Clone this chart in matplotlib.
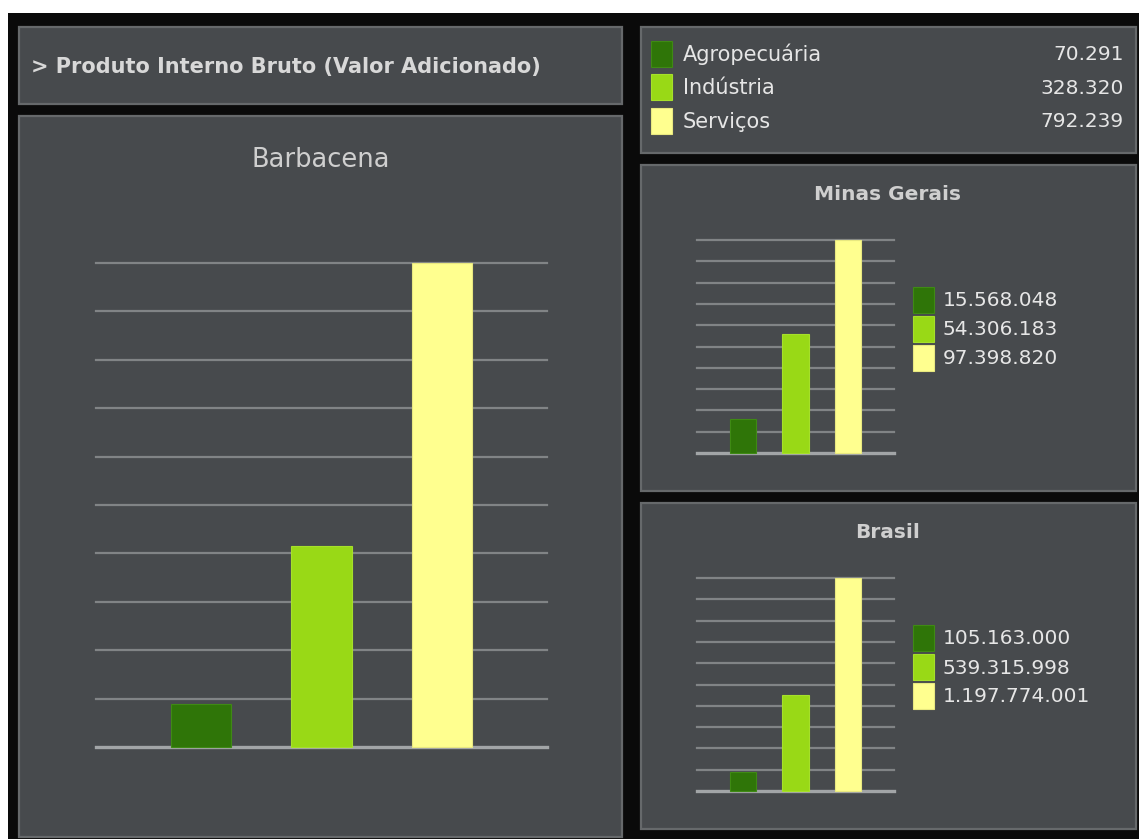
import matplotlib
matplotlib.use("Agg")
import matplotlib.pyplot as plt
from matplotlib import font_manager
from matplotlib.patches import Rectangle

# sectors and value added (R$ mil)
sectors = ["Agropecuária", "Indústria", "Serviços"]
barbacena = [70291, 328320, 792239]
minas_gerais = [15568048, 54306183, 97398820]
brasil = [105163000, 539315998, 1197774001]

title = "> Produto Interno Bruto (Valor Adicionado)"
colors = ["#2f7508", "#99d916", "#ffff8f"]
edges = ["#3f8a14", "#a6e02a", "#e8e880"]

W, H = 1139, 839
PANEL = "#474a4d"
BORDER = "#66696b"
TEXT = "#e6e6e6"
GRID = "#818486"
BASE = "#a2a5a7"

installed = {f.name for f in font_manager.fontManager.ttflist}
narrow = "Liberation Sans Narrow" if "Liberation Sans Narrow" in installed else "DejaVu Sans"
plt.rcParams["font.family"] = "DejaVu Sans"


def fmt(v):
    return f"{v:,}".replace(",", ".")


def px_axes(fig, x0, y0, x1, y1, **kw):
    return fig.add_axes([x0 / W, 1 - y1 / H, (x1 - x0) / W, (y1 - y0) / H], **kw)


def panel(bg, x0, y0, x1, y1):
    bg.add_patch(Rectangle((x0, y0), x1 - x0, y1 - y0, facecolor=PANEL,
                           edgecolor=BORDER, linewidth=1.6))


def bar_chart(fig, values, x0, y0, x1, y1):
    ax = px_axes(fig, x0, y0, x1, y1)
    ax.set_facecolor("none")
    top = max(values)
    for i in range(1, 11):
        ax.axhline(top * i / 10, color=GRID, linewidth=1.6, zorder=1, clip_on=False)
    ax.axhline(0, color=BASE, linewidth=2.4, zorder=1, clip_on=False)
    ax.bar(range(len(values)), values, width=0.5, color=colors,
           edgecolor=edges, linewidth=0.8, zorder=2, clip_on=False)
    ax.set_xlim(-0.87, 2.87)
    ax.set_ylim(0, top)
    ax.axis("off")
    return ax


def side_legend(bg, values, x, y):
    for i, v in enumerate(values):
        yc = y + i * 29
        bg.add_patch(Rectangle((x, yc - 13), 21, 26, facecolor=colors[i],
                               edgecolor=edges[i], linewidth=0.8))
        bg.text(x + 30, yc + 1, fmt(v), color=TEXT, fontsize=14.5,
                family=narrow, va="center", ha="left")


fig = plt.figure(figsize=(W / 100, H / 100), dpi=100)
fig.patch.set_facecolor("white")

bg = fig.add_axes([0, 0, 1, 1])
bg.set_xlim(0, W)
bg.set_ylim(H, 0)
bg.axis("off")
bg.add_patch(Rectangle((8, 13), W - 8, H - 13, facecolor="#0a0a0a", edgecolor="none"))

# left column
panel(bg, 19, 27, 622, 104)
bg.text(31, 67, title, color="#d8d8d8", fontsize=15, fontweight="bold",
        family=narrow, va="center", ha="left")
panel(bg, 19, 116, 622, 837)
bg.text(321, 160, "Barbacena", color="#cfcfcf", fontsize=18.5,
        family=narrow, va="center", ha="center")
bar_chart(fig, barbacena, 96, 263, 547, 747)

# legend with Barbacena values
panel(bg, 641, 27, 1136, 153)
for i, (name, v) in enumerate(zip(sectors, barbacena)):
    yc = 53.5 + i * 33.5
    bg.add_patch(Rectangle((651, yc - 13), 21, 26, facecolor=colors[i],
                           edgecolor=edges[i], linewidth=0.8))
    bg.text(683, yc + 1, name, color=TEXT, fontsize=15, family=narrow,
            va="center", ha="left")
    bg.text(1124, yc + 1, fmt(v), color=TEXT, fontsize=14.5, family=narrow,
            va="center", ha="right")

# Minas Gerais
panel(bg, 641, 165, 1136, 491)
bg.text(888, 194, "Minas Gerais", color="#cfcfcf", fontsize=14.5,
        fontweight="bold", family=narrow, va="center", ha="center")
bar_chart(fig, minas_gerais, 697, 240, 894, 453)
side_legend(bg, minas_gerais, 913, 299.5)

# Brasil
panel(bg, 641, 503, 1136, 829)
bg.text(888, 532, "Brasil", color="#cfcfcf", fontsize=14.5,
        fontweight="bold", family=narrow, va="center", ha="center")
bar_chart(fig, brasil, 697, 578, 894, 791)
side_legend(bg, brasil, 913, 638)

fig.savefig("out.png", dpi=100, facecolor=fig.get_facecolor())
